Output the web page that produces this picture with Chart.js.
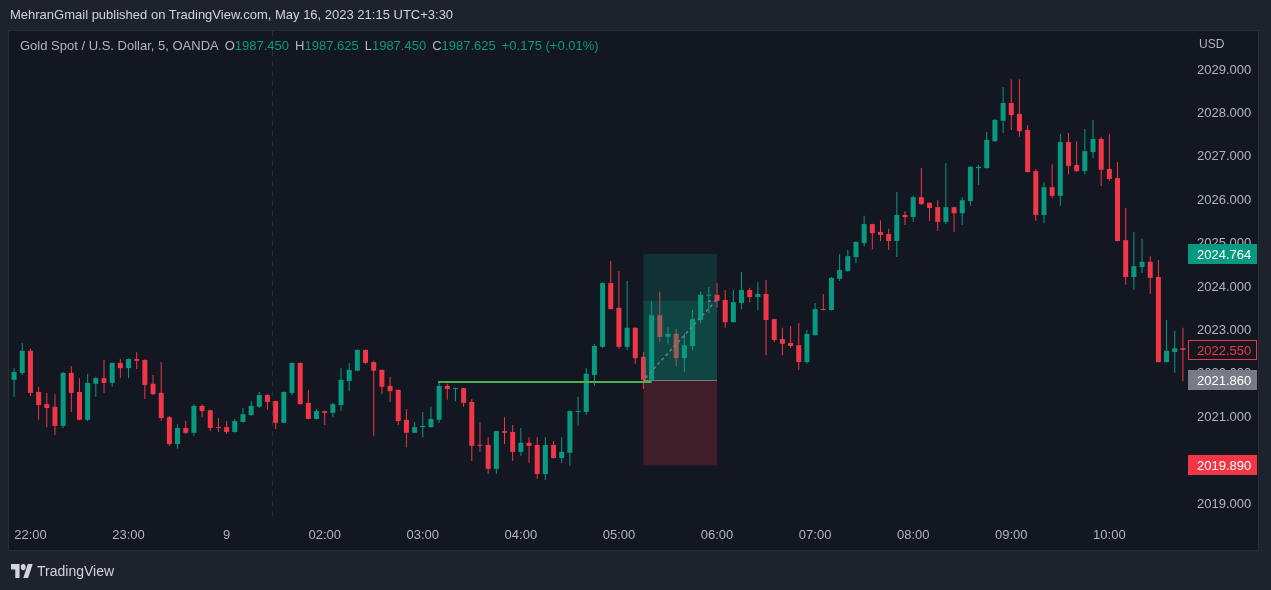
<!DOCTYPE html>
<html lang="en">
<head>
<meta charset="UTF-8">
<title>Gold Spot / U.S. Dollar, 5, OANDA</title>
<script src="https://cdn.jsdelivr.net/npm/chart.js@4.4.0/dist/chart.umd.min.js"></script>
<style>
    html, body { margin: 0; padding: 0; background: #1e222d; overflow: hidden; }
    body { width: 1271px; height: 590px; position: relative; font-family: Arial, "Liberation Sans", sans-serif; }
    canvas { position: absolute; left: 0; top: 0; }
    .header { position: absolute; left: 10px; top: 7px; font-size: 13px; color: #d1d4dc; white-space: nowrap; }
    .legend { position: absolute; left: 20px; top: 38px; font-size: 13px; color: #b2b5be; white-space: pre; }
    .legend .v { color: #089981; }
    .legend .g { margin-left: 6px; }
    .unit { position: absolute; left: 1199px; top: 37px; font-size: 12px; color: #b2b5be; }
    .footer { position: absolute; left: 11px; top: 563px; display: flex; align-items: center; gap: 4px; color: #d1d4dc; font-size: 14px; }
</style>
</head>
<body>
<canvas id="chart" width="1271" height="590"></canvas>
<div class="header">MehranGmail published on TradingView.com, May 16, 2023 21:15 UTC+3:30</div>
<div class="legend">Gold Spot / U.S. Dollar, 5, OANDA<span class="g">O</span><span class="v">1987.450</span><span class="g">H</span><span class="v">1987.625</span><span class="g">L</span><span class="v">1987.450</span><span class="g">C</span><span class="v">1987.625</span><span class="g v">+0.175 (+0.01%)</span></div>
<div class="unit">USD</div>
<div class="footer">
    <svg width="22" height="14" viewBox="0 4 36 18" preserveAspectRatio="none"><g fill="#d1d4dc"><path d="M14 22H7V11H0V4h14v18z"/><circle cx="20" cy="8" r="4"/><path d="M28 22h-8l7.5-18h8L28 22z"/></g></svg>
    <span>TradingView</span>
</div>
<script>
// XAUUSD 5 minute candles
const opens = [
    2021.86, 2022.02, 2022.53, 2021.58, 2021.30, 2021.24, 2020.80, 2022.02, 2021.58, 2020.94, 2021.77, 2021.90,
    2021.79, 2022.25, 2022.13, 2022.34, 2022.32, 2021.77, 2021.56, 2021.00, 2020.38, 2020.75, 2020.64, 2021.26,
    2021.16, 2020.77, 2020.77, 2020.66, 2020.89, 2021.05, 2021.24, 2021.51, 2021.37, 2020.87, 2021.56, 2022.25,
    2021.33, 2020.96, 2021.14, 2021.10, 2021.28, 2021.83, 2022.07, 2022.55, 2022.27, 2022.09, 2021.72, 2021.63,
    2020.94, 2020.64, 2020.77, 2020.77, 2020.94, 2021.72, 2021.65, 2021.67, 2021.35, 2020.36, 2020.36, 2019.81,
    2020.68, 2020.66, 2020.20, 2020.41, 2020.36, 2019.69, 2020.36, 2020.06, 2020.18, 2021.12, 2021.12, 2021.97,
    2022.62, 2024.09, 2023.52, 2022.62, 2023.06, 2022.39, 2021.86, 2023.35, 2022.85, 2022.92, 2022.36, 2022.64,
    2023.24, 2023.80, 2023.82, 2023.70, 2023.19, 2023.63, 2023.93, 2023.77, 2023.84, 2023.26, 2022.80, 2022.71,
    2022.66, 2022.27, 2022.89, 2023.49, 2023.47, 2024.19, 2024.37, 2024.69, 2025.01, 2025.45, 2025.27, 2025.22,
    2025.06, 2025.66, 2025.61, 2026.07, 2025.94, 2025.84, 2025.50, 2025.84, 2025.70, 2025.98, 2026.74, 2026.74,
    2027.36, 2027.83, 2028.24, 2027.99, 2027.62, 2026.67, 2025.66, 2026.30, 2026.10, 2027.34, 2026.81, 2026.67,
    2027.11, 2027.41, 2026.72, 2026.51, 2025.08, 2024.23, 2024.46, 2024.58, 2024.23, 2022.27, 2022.50, 2022.59
];
const highs = [
    2022.13, 2022.71, 2022.57, 2021.70, 2021.56, 2021.53, 2022.04, 2022.18, 2021.90, 2022.00, 2021.93, 2022.32,
    2022.26, 2022.34, 2022.36, 2022.50, 2022.33, 2021.97, 2022.27, 2021.03, 2020.84, 2020.91, 2021.30, 2021.30,
    2021.17, 2020.98, 2020.91, 2020.96, 2021.21, 2021.37, 2021.58, 2021.53, 2021.38, 2021.59, 2022.26, 2022.26,
    2021.63, 2021.19, 2021.15, 2021.33, 2022.13, 2022.25, 2022.56, 2022.56, 2022.30, 2022.10, 2021.93, 2021.64,
    2021.19, 2020.89, 2021.12, 2021.24, 2021.83, 2021.77, 2021.68, 2021.68, 2021.42, 2020.89, 2020.54, 2020.69,
    2021.00, 2020.82, 2020.75, 2020.54, 2020.54, 2020.54, 2020.45, 2020.54, 2021.15, 2021.47, 2022.13, 2022.69,
    2024.11, 2024.60, 2024.37, 2024.14, 2023.07, 2022.50, 2023.68, 2023.89, 2023.08, 2023.03, 2022.94, 2023.47,
    2023.89, 2024.00, 2024.09, 2023.93, 2023.93, 2024.35, 2023.98, 2024.11, 2024.16, 2023.27, 2023.06, 2023.10,
    2023.17, 2023.01, 2023.63, 2023.84, 2024.23, 2024.76, 2024.85, 2025.05, 2025.64, 2025.46, 2025.54, 2025.34,
    2026.19, 2025.75, 2026.10, 2026.74, 2025.95, 2026.00, 2026.86, 2025.85, 2026.07, 2026.78, 2026.81, 2027.57,
    2027.87, 2028.61, 2028.79, 2028.79, 2027.73, 2026.72, 2026.42, 2026.83, 2027.53, 2027.55, 2027.36, 2027.64,
    2027.85, 2027.46, 2027.53, 2026.88, 2025.82, 2025.27, 2025.11, 2024.71, 2024.62, 2023.24, 2022.99, 2023.06
];
const lows = [
    2021.47, 2021.97, 2021.49, 2020.94, 2020.77, 2020.59, 2020.75, 2021.12, 2020.93, 2020.91, 2021.47, 2021.56,
    2021.70, 2021.90, 2021.90, 2022.11, 2021.42, 2021.51, 2020.91, 2020.34, 2020.27, 2020.61, 2020.57, 2021.00,
    2020.68, 2020.66, 2020.61, 2020.65, 2020.88, 2021.03, 2021.21, 2021.17, 2020.73, 2020.86, 2021.51, 2021.29,
    2020.95, 2020.95, 2020.82, 2021.00, 2021.14, 2021.60, 2022.06, 2022.23, 2020.57, 2021.53, 2021.35, 2020.82,
    2020.31, 2020.63, 2020.54, 2020.76, 2020.87, 2021.40, 2021.37, 2021.24, 2019.99, 2020.20, 2019.69, 2019.69,
    2020.38, 2019.99, 2020.11, 2019.95, 2019.58, 2019.55, 2020.05, 2019.95, 2019.88, 2020.80, 2021.05, 2021.72,
    2022.60, 2023.48, 2022.57, 2022.55, 2022.23, 2021.65, 2021.85, 2022.73, 2022.69, 2022.18, 2022.04, 2022.55,
    2023.17, 2023.40, 2023.52, 2023.06, 2023.18, 2023.49, 2023.65, 2023.47, 2022.43, 2022.73, 2022.43, 2022.60,
    2022.09, 2022.23, 2022.88, 2023.46, 2023.46, 2024.14, 2024.36, 2024.55, 2024.94, 2024.87, 2025.06, 2024.85,
    2024.69, 2025.43, 2025.50, 2025.89, 2025.52, 2025.29, 2025.45, 2025.27, 2025.43, 2025.87, 2026.35, 2026.73,
    2027.34, 2027.55, 2027.62, 2027.46, 2026.64, 2025.52, 2025.47, 2026.05, 2025.87, 2026.60, 2026.65, 2026.60,
    2026.97, 2026.33, 2026.44, 2025.05, 2024.05, 2023.93, 2024.32, 2023.84, 2022.26, 2022.26, 2022.02, 2021.83
];
const closes = [
    2022.04, 2022.53, 2021.56, 2021.28, 2021.21, 2020.80, 2022.02, 2021.56, 2020.94, 2021.79, 2021.90, 2021.79,
    2022.25, 2022.13, 2022.34, 2022.30, 2021.74, 2021.53, 2020.98, 2020.38, 2020.75, 2020.64, 2021.26, 2021.14,
    2020.75, 2020.75, 2020.66, 2020.91, 2021.07, 2021.26, 2021.51, 2021.35, 2020.87, 2021.58, 2022.25, 2021.30,
    2020.96, 2021.14, 2021.10, 2021.30, 2021.86, 2022.09, 2022.55, 2022.25, 2022.07, 2021.70, 2021.60, 2020.91,
    2020.64, 2020.77, 2020.80, 2020.96, 2021.72, 2021.65, 2021.67, 2021.33, 2020.34, 2020.34, 2019.81, 2020.68,
    2020.64, 2020.20, 2020.41, 2020.34, 2019.69, 2020.36, 2020.06, 2020.20, 2021.14, 2021.14, 2022.00, 2022.64,
    2024.09, 2023.49, 2022.62, 2023.06, 2022.36, 2021.86, 2023.35, 2022.85, 2022.92, 2022.36, 2022.66, 2023.26,
    2023.82, 2023.82, 2023.68, 2023.19, 2023.65, 2023.93, 2023.77, 2023.84, 2023.24, 2022.78, 2022.69, 2022.64,
    2022.27, 2022.92, 2023.49, 2023.47, 2024.21, 2024.39, 2024.71, 2025.04, 2025.45, 2025.24, 2025.20, 2025.06,
    2025.66, 2025.61, 2026.07, 2025.91, 2025.82, 2025.50, 2025.84, 2025.70, 2026.00, 2026.77, 2026.77, 2027.39,
    2027.85, 2028.24, 2027.96, 2027.59, 2026.65, 2025.66, 2026.30, 2026.10, 2027.34, 2026.79, 2026.67, 2027.13,
    2027.41, 2026.70, 2026.49, 2025.06, 2024.23, 2024.48, 2024.58, 2024.21, 2022.27, 2022.53, 2022.59, 2022.55
];

// two trading sessions: [start time, number of 5m bars]
const sessions = [['21:50', 32], ['01:30', 112]];
const tickTimes = ['22:00', '23:00', '00:00', '02:00', '03:00', '04:00', '05:00', '06:00', '07:00', '08:00', '09:00', '10:00'];
const tickText  = ['22:00', '23:00', '9', '02:00', '03:00', '04:00', '05:00', '06:00', '07:00', '08:00', '09:00', '10:00'];
const priceTicks = [2019, 2020, 2021, 2022, 2023, 2024, 2025, 2026, 2027, 2028, 2029];

// drawings
const entryPrice = 2021.86, targetPrice = 2024.764, stopPrice = 2019.89, exitPrice = 2023.68;
const positionBars = [77, 86];
const trendBars = [52, 78], trendPrice = 2021.81;
const lastPrice = 2022.55;

const UP = '#089981', DOWN = '#f23645';

const times = [];
sessions.forEach(([start, n]) => {
    let [h, m] = start.split(':').map(Number);
    for (let i = 0; i < n; i++) {
        times.push(String(h).padStart(2, '0') + ':' + String(m).padStart(2, '0'));
        m += 5;
        if (m === 60) { m = 0; h = (h + 1) % 24; }
    }
});

const colors = opens.map((o, i) => closes[i] >= o ? UP : DOWN);

const tvPlugin = {
    id: 'tv',
    beforeDraw(chart) {
        const ctx = chart.ctx;
        ctx.save();
        ctx.fillStyle = '#1e222d';
        ctx.fillRect(0, 0, chart.width, chart.height);
        ctx.fillStyle = '#131722';
        ctx.fillRect(8, 30, 1251, 521);
        ctx.strokeStyle = '#2a2e39';
        ctx.lineWidth = 1;
        ctx.strokeRect(8.5, 30.5, 1250, 520);
        ctx.restore();
    },
    beforeDatasetsDraw(chart) {
        const { ctx, chartArea, scales: { x } } = chart;
        // session break
        const sx = Math.round((x.getPixelForValue(31) + x.getPixelForValue(32)) / 2) + 0.5;
        ctx.save();
        ctx.strokeStyle = '#2a2e39';
        ctx.setLineDash([5, 5]);
        ctx.beginPath();
        ctx.moveTo(sx, 31);
        ctx.lineTo(sx, chartArea.bottom);
        ctx.stroke();
        ctx.restore();
    },
    afterDatasetsDraw(chart) {
        const { ctx, chartArea, scales: { x, y } } = chart;
        const x1 = x.getPixelForValue(positionBars[0]);
        const x2 = x.getPixelForValue(positionBars[1]);
        const yE = y.getPixelForValue(entryPrice);
        const yT = y.getPixelForValue(targetPrice);
        const yS = y.getPixelForValue(stopPrice);
        const yX = y.getPixelForValue(exitPrice);
        ctx.save();
        ctx.beginPath();
        ctx.rect(chartArea.left, chartArea.top, chartArea.width, chartArea.height);
        ctx.clip();
        // long position
        ctx.fillStyle = 'rgba(8, 153, 129, 0.2)';
        ctx.fillRect(x1, yT, x2 - x1, yE - yT);
        ctx.fillRect(x1, yX, x2 - x1, yE - yX);
        ctx.fillStyle = 'rgba(242, 54, 69, 0.2)';
        ctx.fillRect(x1, yE, x2 - x1, yS - yE);
        ctx.strokeStyle = '#787b86';
        ctx.lineWidth = 1;
        ctx.beginPath();
        ctx.moveTo(x1, Math.round(yE) + 0.5);
        ctx.lineTo(x2, Math.round(yE) + 0.5);
        ctx.stroke();
        ctx.setLineDash([3, 3]);
        ctx.lineWidth = 1.5;
        ctx.beginPath();
        ctx.moveTo(x1 + 2, yE - 2);
        ctx.lineTo(x2 - 4, yX + 3);
        ctx.stroke();
        ctx.beginPath();
        ctx.moveTo(x2 - 9, yX);
        ctx.lineTo(x2, yX);
        ctx.stroke();
        ctx.setLineDash([]);
        // trend line
        ctx.strokeStyle = '#4caf50';
        ctx.lineWidth = 2;
        const yL = y.getPixelForValue(trendPrice);
        ctx.beginPath();
        ctx.moveTo(x.getPixelForValue(trendBars[0]) - 1, yL);
        ctx.lineTo(x.getPixelForValue(trendBars[1]), yL);
        ctx.stroke();
        ctx.restore();
    },
    afterDraw(chart) {
        const { ctx, scales: { y } } = chart;
        const tag = (price, bg, fg, outline) => {
            const cy = Math.round(y.getPixelForValue(price));
            ctx.fillStyle = bg;
            ctx.fillRect(1188, cy - 10, 69, 20);
            if (outline) {
                ctx.strokeStyle = outline;
                ctx.lineWidth = 1;
                ctx.strokeRect(1188.5, cy - 9.5, 68, 19);
            }
            ctx.fillStyle = fg;
            ctx.font = '13px Arial, "Liberation Sans", sans-serif';
            ctx.textAlign = 'left';
            ctx.textBaseline = 'middle';
            ctx.fillText(price.toFixed(3), 1197, cy + 1);
        };
        ctx.save();
        tag(targetPrice, UP, '#ffffff');
        tag(entryPrice, '#787b86', '#ffffff');
        tag(lastPrice, '#131722', DOWN, DOWN);
        tag(stopPrice, DOWN, '#ffffff');
        ctx.restore();
    }
};

new Chart(document.getElementById('chart'), {
    type: 'bar',
    data: {
        labels: times,
        datasets: [
            {
                data: opens.map((o, i) => [o, closes[i]]),
                backgroundColor: colors,
                barThickness: 5,
                minBarLength: 1,
                grouped: false,
                inflateAmount: 0
            },
            {
                data: lows.map((l, i) => [l, highs[i]]),
                backgroundColor: colors,
                barThickness: 1,
                grouped: false,
                inflateAmount: 0
            }
        ]
    },
    options: {
        responsive: false,
        animation: false,
        layout: { padding: { left: 10, top: 30, right: 12, bottom: 39 } },
        plugins: {
            legend: { display: false },
            tooltip: { enabled: false }
        },
        scales: {
            x: {
                offset: true,
                grid: { display: false, drawTicks: false },
                border: { display: false },
                ticks: {
                    autoSkip: false,
                    maxRotation: 0,
                    padding: 8,
                    color: '#b2b5be',
                    font: { family: 'Arial, "Liberation Sans", sans-serif', size: 13 },
                    callback: function (val) {
                        const k = tickTimes.indexOf(this.getLabelForValue(val));
                        return k >= 0 ? tickText[k] : null;
                    }
                },
                afterFit: s => { s.height = 31; }
            },
            y: {
                position: 'right',
                min: 2018.631,
                max: 2029.922,
                grid: { display: false, drawTicks: false },
                border: { display: false },
                ticks: {
                    padding: 10,
                    color: '#b2b5be',
                    font: { family: 'Arial, "Liberation Sans", sans-serif', size: 13 },
                    callback: v => v.toFixed(3)
                },
                afterBuildTicks: s => { s.ticks = priceTicks.map(v => ({ value: v })); },
                afterFit: s => { s.width = 72; }
            }
        }
    },
    plugins: [tvPlugin]
});
</script>
</body>
</html>
